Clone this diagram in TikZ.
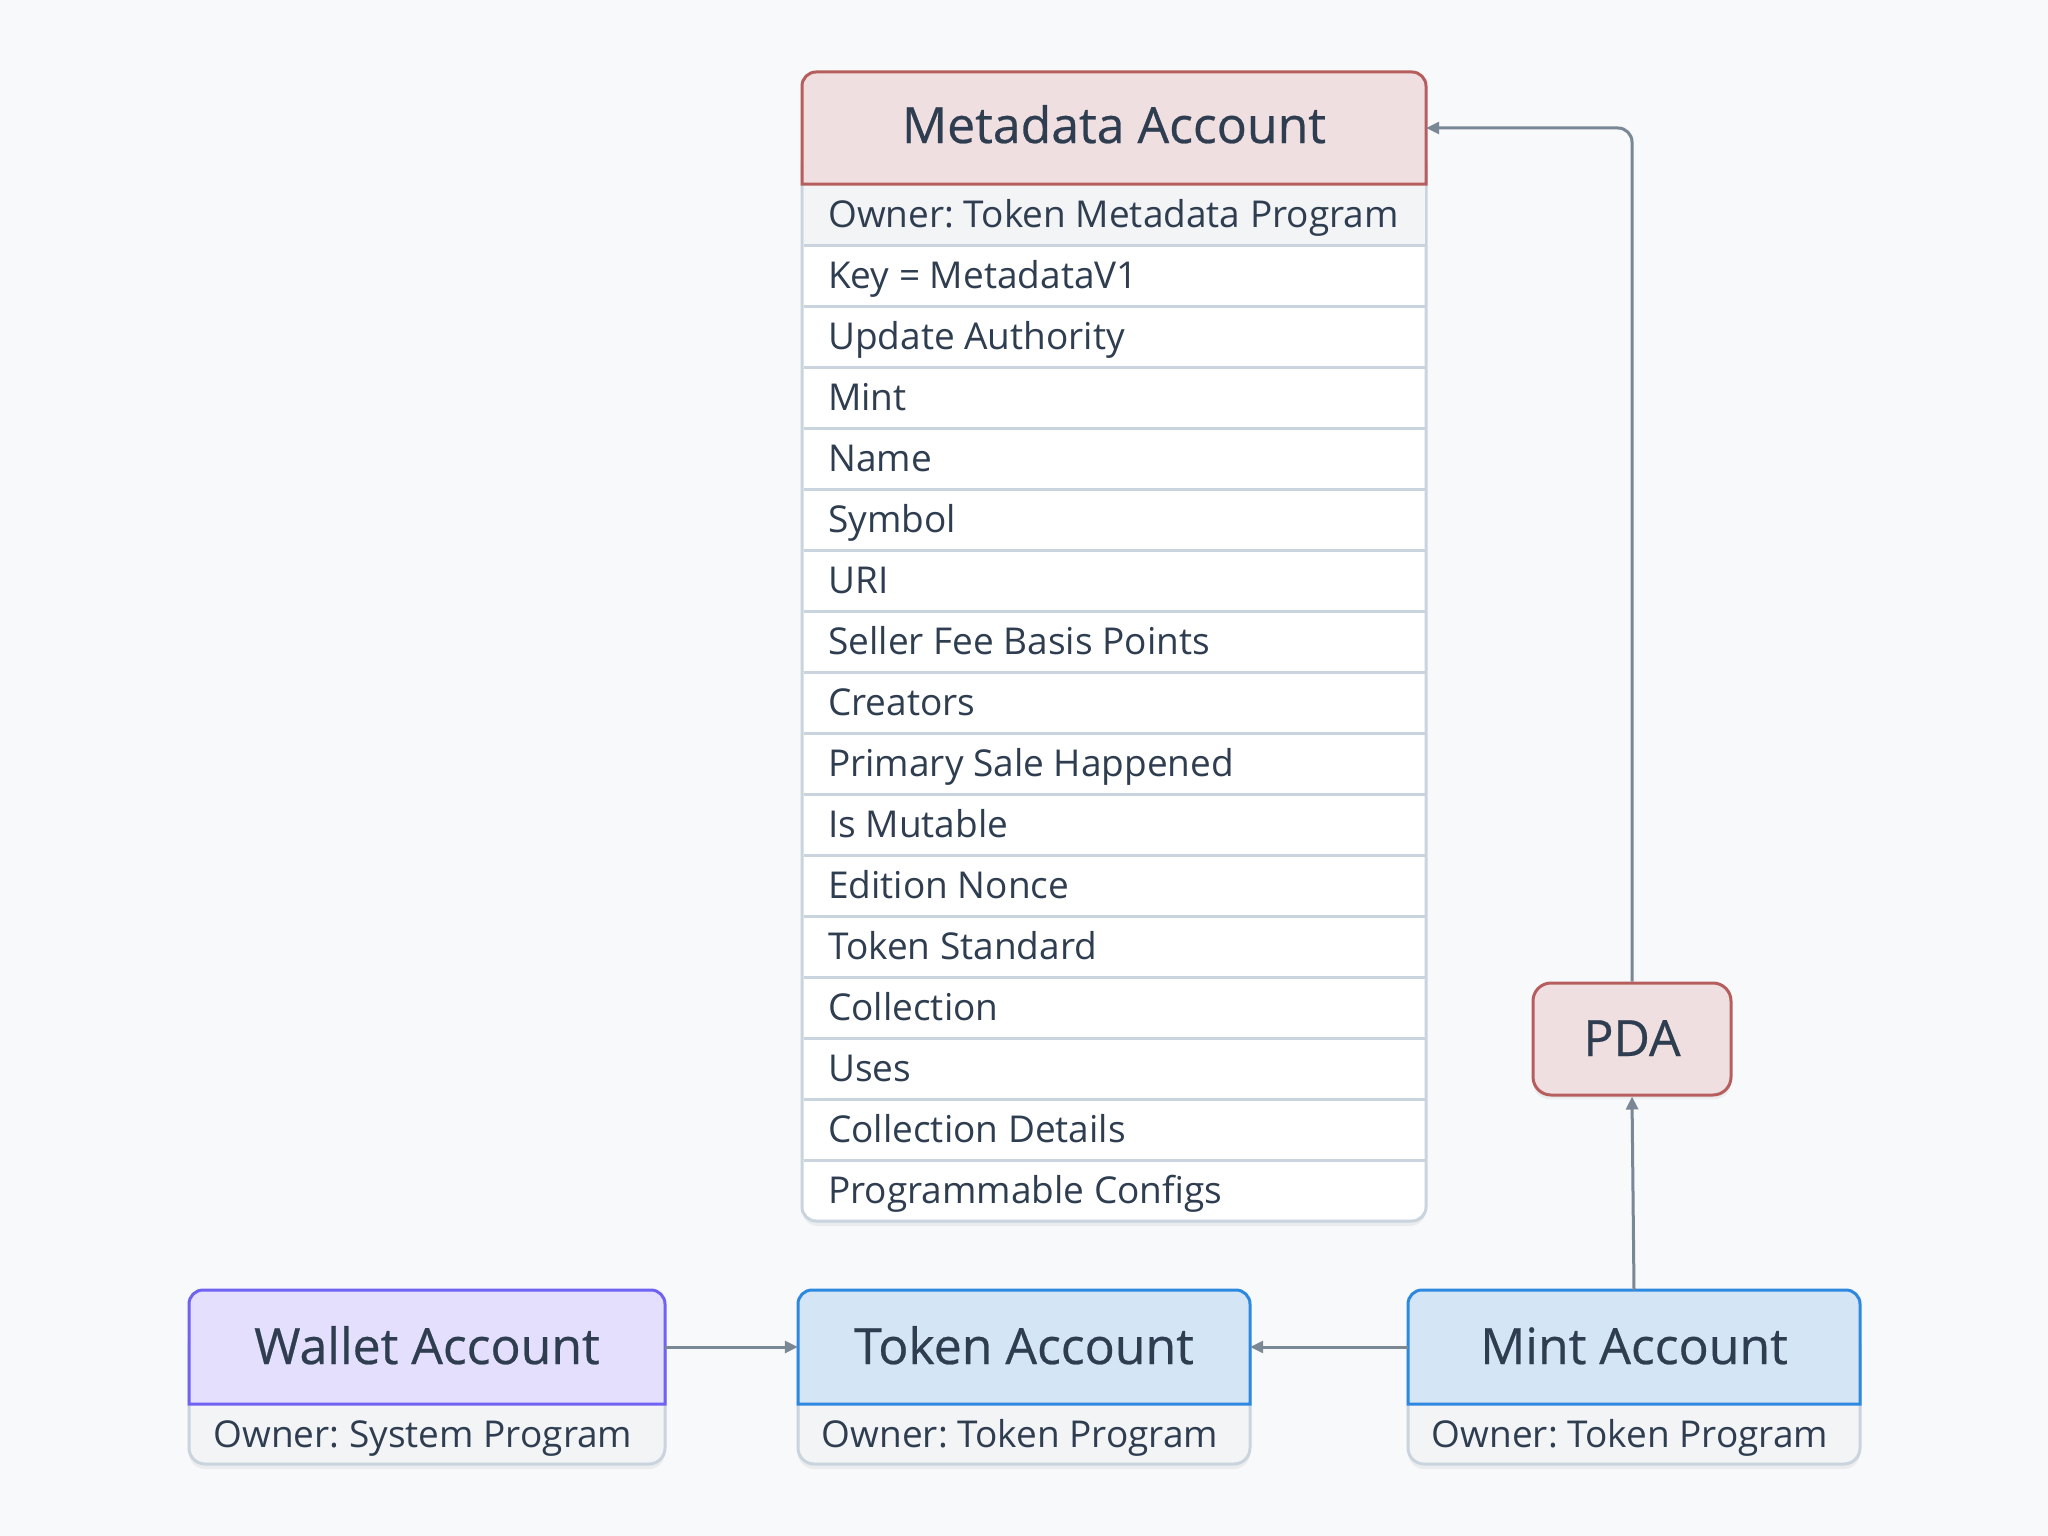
\documentclass[tikz,border=0pt]{standalone}
\usepackage{fontspec}
\setmainfont{Open Sans}
\newfontfamily\titlefont[FakeBold=0.5]{Open Sans}
\frenchspacing
\usetikzlibrary{arrows.meta}
\definecolor{bg}{HTML}{F8F9FB}
\definecolor{txt}{HTML}{2E3D50}
\definecolor{rowline}{HTML}{C9D4DE}
\definecolor{rowfill}{HTML}{F3F4F6}
\definecolor{redfill}{HTML}{F0DFE1}
\definecolor{redline}{HTML}{B65E5E}
\definecolor{purfill}{HTML}{E3DFFD}
\definecolor{purline}{HTML}{7062F2}
\definecolor{bluefill}{HTML}{D4E5F6}
\definecolor{blueline}{HTML}{2D88E0}
\definecolor{arrowc}{HTML}{7A8795}
\newcommand{\topround}[5]{%
  \filldraw[#1] (#2,#5) -- (#2,#3+14) arc[start angle=180,end angle=270,radius=14]
    -- (#4-14,#3) arc[start angle=270,end angle=360,radius=14] -- (#4,#5) -- cycle;}
\begin{document}
\begin{tikzpicture}[x=1pt,y=-1pt,
  titletext/.style={text=txt, font=\titlefont\fontsize{50}{60}\selectfont, inner sep=0pt, anchor=base},
  rowtext/.style={text=txt, font=\fontsize{37}{45}\selectfont, inner sep=0pt},
  hdrnode/.style={inner sep=0pt, minimum height=114pt},
  shadowbox/.style={fill=black, opacity=0.05, rounded corners=16pt},
  conn/.style={draw=arrowc, line width=3pt, -{Triangle[length=13pt,width=12pt]}}
]
\useasboundingbox[fill=bg] (0,0) rectangle (2048,1536);

% ---------- Metadata account ----------
\fill[shadowbox] (802,80) rectangle (1426,1226);
\filldraw[fill=white, draw=rowline, line width=3pt, rounded corners=14pt] (802,150) rectangle (1426,1221);
\fill[rowfill] (803.5,185) rectangle (1424.5,245);
\foreach \k in {1,...,16} {
  \draw[rowline, line width=3pt] (803.5,184+61*\k) -- (1424.5,184+61*\k);
}
\topround{fill=redfill, draw=redline, line width=3pt}{802}{72}{1426}{184}
\node[hdrnode, minimum width=624pt] (meta) at (1114,128) {};
\node[titletext] (metaT) at (1114,143) {Metadata Account};

\foreach \t [count=\i] in {Owner: Token Metadata Program, Key = MetadataV1, Update Authority, Mint, Name, Symbol, URI, Seller Fee Basis Points, Creators, Primary Sale Happened, Is Mutable, Edition Nonce, Token Standard, Collection, Uses, Collection Details, Programmable Configs} {
  \node[rowtext, anchor=base west] (row\i) at (828,184+61*\i-30.5+13) {\t};
}

% ---------- PDA ----------
\fill[shadowbox] (1533,989) rectangle (1731,1099);
\node[draw=redline, fill=redfill, line width=3pt, rounded corners=18pt,
      minimum width=198pt, minimum height=112pt, inner sep=0pt] (pda) at (1632,1039) {};
\node[titletext] (pdaT) at (1632,1056) {PDA};

% ---------- bottom boxes ----------
\foreach \x/\w/\nm/\ti/\ow/\fc/\lc in {
  189/476/wallet/Wallet Account/Owner: System Program/purfill/purline,
  798/452/token/Token Account/Owner: Token Program/bluefill/blueline,
  1408/452/mint/Mint Account/Owner: Token Program/bluefill/blueline} {
  \fill[shadowbox] (\x,1297) rectangle (\x+\w,1469);
  \filldraw[fill=rowfill, draw=rowline, line width=3pt, rounded corners=16pt] (\x,1330) rectangle (\x+\w,1464);
  \topround{fill=\fc, draw=\lc, line width=3pt}{\x}{1290}{\x+\w}{1404}
  \node[hdrnode, minimum width=\w pt] (\nm) at (\x+\w/2,1347) {};
  \node[titletext] (\nm T) at (\x+\w/2,1364) {\ti};
  \node[rowtext, anchor=base] (\nm own) at (\x+\w/2-4,1447) {\ow};
}

% ---------- connectors ----------
\draw[conn] (wallet.east) -- (token.west);
\draw[conn] (mint.west) -- (token.east);
\draw[conn] (mint.north) -- (pda.south);
\draw[conn, rounded corners=14pt] (pda.north) |- (meta.east);
\end{tikzpicture}
\end{document}
